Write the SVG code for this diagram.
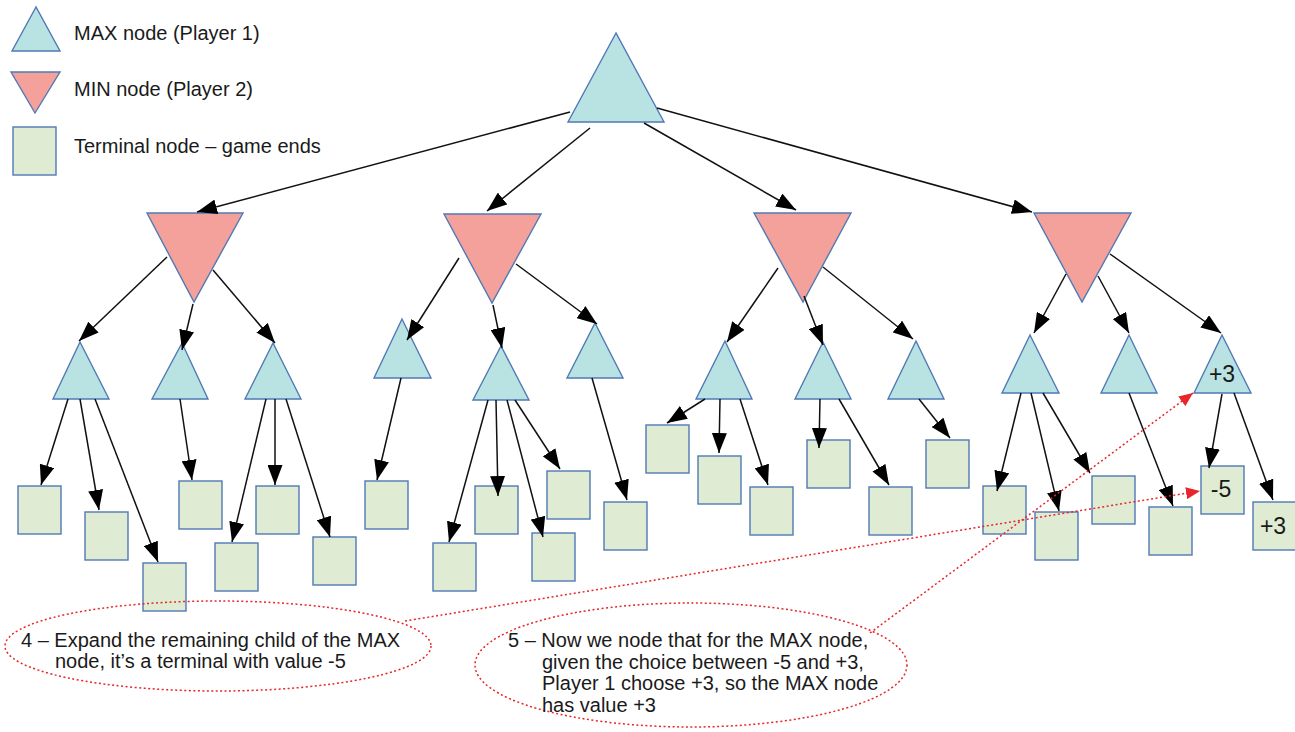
<svg xmlns="http://www.w3.org/2000/svg" width="1295" height="732" viewBox="0 0 1295 732">
  <style>
    .max { fill: #b9e2e2; stroke: #5079b6; stroke-width: 1.4; stroke-linejoin: miter; }
    .min { fill: #f5a19b; stroke: #5079b6; stroke-width: 1.4; }
    .term { fill: #dfebd3; stroke: #5079b6; stroke-width: 1.4; }
    .edge { stroke: #111; stroke-width: 1.5; fill: none; marker-end: url(#arrow); }
    .note { stroke: #e8262a; stroke-width: 1.5; stroke-dasharray: 2 2.5; fill: none; }
    .notearrow { marker-end: url(#redarrow); }
    text { font-family: "Liberation Sans", Arial, sans-serif; font-size: 20px; fill: #1a1a1a; }
    .val { text-anchor: middle; font-size: 23px; }
  </style>
  <defs>
    <marker id="arrow" markerUnits="userSpaceOnUse" markerWidth="21" markerHeight="15" refX="20" refY="7.5" orient="auto">
      <path d="M0,0 L20,7.5 L0,15 z" fill="#000"/>
    </marker>
    <marker id="redarrow" markerUnits="userSpaceOnUse" markerWidth="15" markerHeight="12" refX="14" refY="6" orient="auto">
      <path d="M0,0 L14,6 L0,12 z" fill="#e8262a"/>
    </marker>
  </defs>

  <rect width="1295" height="732" fill="#fff"/>

  <!-- legend -->
  <g id="legend">
    <polygon class="max" points="36,7 12,51 60,51"/>
    <text x="74" y="40">MAX node (Player 1)</text>
    <polygon class="min" points="11,72 60,72 35,113"/>
    <text x="74" y="96">MIN node (Player 2)</text>
    <rect class="term" x="13" y="127" width="43" height="48"/>
    <text x="74" y="153">Terminal node – game ends</text>
  </g>

  <!-- root -->
  <g id="root"><polygon class="max" points="616,33 568,122 664,122"/></g>

  <!-- MIN level -->
  <g id="min1"><polygon class="min" points="147,213 243,213 194,302"/></g>
  <g id="min2"><polygon class="min" points="444,214 541,214 492,303"/></g>
  <g id="min3"><polygon class="min" points="754,213 851,213 803,302"/></g>
  <g id="min4"><polygon class="min" points="1034,213 1131,213 1082,302"/></g>

  <!-- MAX level -->
  <g id="a1"><polygon class="max" points="80,342 53,399 109,399"/></g>
  <g id="a2"><polygon class="max" points="182,343 152,399 208,399"/></g>
  <g id="a3"><polygon class="max" points="273,343 245,399 301,399"/></g>
  <g id="b1"><polygon class="max" points="402,319 374,378 431,378"/></g>
  <g id="b2"><polygon class="max" points="501,346 473,400 529,400"/></g>
  <g id="b3"><polygon class="max" points="595,323 567,378 623,378"/></g>
  <g id="c1"><polygon class="max" points="725,341 696,399 752,399"/></g>
  <g id="c2"><polygon class="max" points="823,342 795,399 851,399"/></g>
  <g id="c3"><polygon class="max" points="916,341 888,399 944,399"/></g>
  <g id="d1"><polygon class="max" points="1030,335 1002,393 1059,393"/></g>
  <g id="d2"><polygon class="max" points="1129,335 1101,393 1157,393"/></g>
  <g id="d3"><polygon class="max" points="1222,335 1194,393 1251,393"/><text class="val" x="1222" y="382">+3</text></g>

  <!-- terminals -->
  <g id="t1"><rect class="term" x="18" y="486" width="43" height="48"/></g>
  <g id="t2"><rect class="term" x="85" y="512" width="43" height="48"/></g>
  <g id="t3"><rect class="term" x="143" y="563" width="43" height="48"/></g>
  <g id="t4"><rect class="term" x="179" y="481" width="43" height="48"/></g>
  <g id="t5"><rect class="term" x="215" y="543" width="43" height="48"/></g>
  <g id="t6"><rect class="term" x="256" y="486" width="43" height="48"/></g>
  <g id="t7"><rect class="term" x="313" y="537" width="43" height="48"/></g>
  <g id="t8"><rect class="term" x="365" y="481" width="43" height="48"/></g>
  <g id="t9"><rect class="term" x="433" y="543" width="43" height="48"/></g>
  <g id="t10"><rect class="term" x="475" y="486" width="43" height="48"/></g>
  <g id="t11"><rect class="term" x="532" y="533" width="43" height="48"/></g>
  <g id="t12"><rect class="term" x="547" y="471" width="43" height="48"/></g>
  <g id="t13"><rect class="term" x="604" y="502" width="43" height="48"/></g>
  <g id="t14"><rect class="term" x="646" y="425" width="43" height="48"/></g>
  <g id="t15"><rect class="term" x="698" y="456" width="43" height="48"/></g>
  <g id="t16"><rect class="term" x="750" y="487" width="43" height="48"/></g>
  <g id="t17"><rect class="term" x="807" y="440" width="43" height="48"/></g>
  <g id="t18"><rect class="term" x="869" y="487" width="43" height="48"/></g>
  <g id="t19"><rect class="term" x="926" y="440" width="43" height="48"/></g>
  <g id="t20"><rect class="term" x="983" y="486" width="43" height="48"/></g>
  <g id="t21"><rect class="term" x="1035" y="512" width="43" height="48"/></g>
  <g id="t22"><rect class="term" x="1092" y="476" width="43" height="48"/></g>
  <g id="t23"><rect class="term" x="1149" y="507" width="43" height="48"/></g>
  <g id="t24"><rect class="term" x="1201" y="466" width="43" height="48"/><text class="val" x="1221" y="497">-5</text></g>
  <g id="t25"><rect class="term" x="1253" y="502" width="43" height="48"/><text class="val" x="1273" y="534">+3</text></g>

  <!-- tree edges -->
  <g id="connectors">
    <line class="edge" x1="570" y1="112" x2="197" y2="212"/>
    <line class="edge" x1="590" y1="128" x2="487" y2="211"/>
    <line class="edge" x1="644" y1="123" x2="796" y2="210"/>
    <line class="edge" x1="657" y1="108" x2="1032" y2="212"/>

    <line class="edge" x1="167" y1="257" x2="79" y2="341"/>
    <line class="edge" x1="193" y1="304" x2="182" y2="350"/>
    <line class="edge" x1="213" y1="270" x2="275" y2="343"/>
    <line class="edge" x1="459" y1="258" x2="407" y2="340"/>
    <line class="edge" x1="493" y1="305" x2="502" y2="348"/>
    <line class="edge" x1="516" y1="264" x2="597" y2="324"/>
    <line class="edge" x1="778" y1="268" x2="727" y2="342"/>
    <line class="edge" x1="804" y1="296" x2="823" y2="345"/>
    <line class="edge" x1="823" y1="267" x2="913" y2="339"/>
    <line class="edge" x1="1066" y1="274" x2="1034" y2="333"/>
    <line class="edge" x1="1098" y1="276" x2="1129" y2="333"/>
    <line class="edge" x1="1110" y1="254" x2="1221" y2="333"/>

    <line class="edge" x1="68" y1="399" x2="41" y2="485"/>
    <line class="edge" x1="80" y1="399" x2="99" y2="510"/>
    <line class="edge" x1="95" y1="399" x2="158" y2="562"/>
    <line class="edge" x1="180" y1="399" x2="192" y2="480"/>
    <line class="edge" x1="266" y1="399" x2="232" y2="542"/>
    <line class="edge" x1="275" y1="399" x2="275" y2="485"/>
    <line class="edge" x1="286" y1="399" x2="330" y2="537"/>
    <line class="edge" x1="401" y1="378" x2="377" y2="480"/>
    <line class="edge" x1="488" y1="400" x2="449" y2="542"/>
    <line class="edge" x1="496" y1="400" x2="498" y2="496"/>
    <line class="edge" x1="507" y1="400" x2="543" y2="537"/>
    <line class="edge" x1="515" y1="400" x2="560" y2="469"/>
    <line class="edge" x1="592" y1="378" x2="627" y2="500"/>
    <line class="edge" x1="705" y1="399" x2="667" y2="423"/>
    <line class="edge" x1="720" y1="399" x2="719" y2="453"/>
    <line class="edge" x1="740" y1="399" x2="768" y2="485"/>
    <line class="edge" x1="820" y1="399" x2="819" y2="448"/>
    <line class="edge" x1="839" y1="399" x2="889" y2="485"/>
    <line class="edge" x1="919" y1="399" x2="950" y2="438"/>
    <line class="edge" x1="1021" y1="393" x2="997" y2="491"/>
    <line class="edge" x1="1031" y1="393" x2="1059" y2="511"/>
    <line class="edge" x1="1043" y1="393" x2="1090" y2="473"/>
    <line class="edge" x1="1129" y1="393" x2="1173" y2="506"/>
    <line class="edge" x1="1222" y1="394" x2="1209" y2="468"/>
    <line class="edge" x1="1234" y1="393" x2="1273" y2="500"/>
  </g>

  <!-- annotations -->
  <g id="note4">
    <ellipse class="note" cx="218" cy="646" rx="213" ry="45"/>
    <text x="21" y="647">4 – Expand the remaining child of the MAX</text>
    <text x="55" y="668">node, it’s a terminal with value -5</text>
  </g>
  <g id="note5">
    <ellipse class="note" cx="691" cy="665" rx="216" ry="62"/>
    <text x="508" y="647">5 – Now we node that for the MAX node,</text>
    <text x="542" y="668.5">given the choice between -5 and +3,</text>
    <text x="542" y="690">Player 1 choose +3, so the MAX node</text>
    <text x="542" y="711.5">has value +3</text>
  </g>
  <g id="note-links">
    <line class="note notearrow" x1="405" y1="621" x2="1200" y2="491"/>
    <line class="note notearrow" x1="870" y1="633" x2="1193" y2="393"/>
  </g>
</svg>
